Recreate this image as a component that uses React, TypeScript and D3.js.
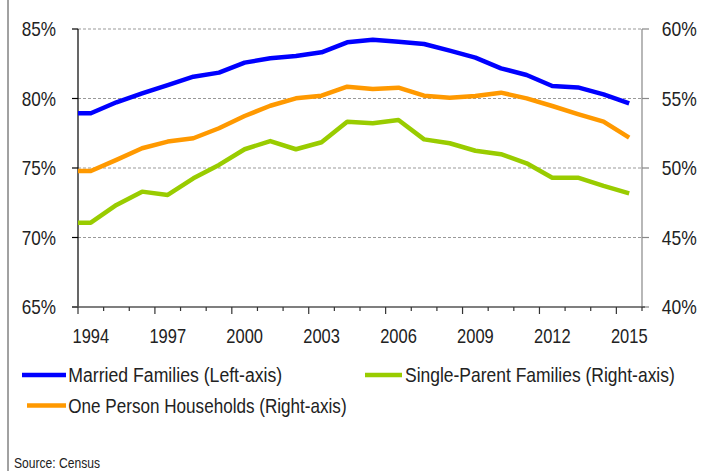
import React, { useLayoutEffect, useRef, useState } from "react";
import * as d3 from "d3";

const years = [1994,1995,1996,1997,1998,1999,2000,2001,2002,2003,2004,2005,2006,2007,2008,2009,2010,2011,2012,2013,2014,2015];
const married = [78.94,79.73,80.37,80.97,81.57,81.86,82.58,82.89,83.06,83.32,84.04,84.23,84.09,83.92,83.44,82.94,82.17,81.69,80.9,80.8,80.3,79.65];
const onePerson = [49.78,50.58,51.42,51.9,52.14,52.86,53.74,54.48,55.01,55.2,55.85,55.68,55.78,55.2,55.06,55.18,55.42,55.01,54.46,53.88,53.33,52.18];
const singleParent = [46.07,47.34,48.3,48.06,49.26,50.22,51.35,51.94,51.35,51.85,53.33,53.22,53.45,52.06,51.78,51.24,50.99,50.34,49.3,49.3,48.71,48.18];
const leftTicks = [65,70,75,80,85];
const rightTicks = [40,45,50,55,60];
const labelYears = [1994,1997,2000,2003,2006,2009,2012,2015];
const seriesNames = ["Married Families (Left-axis)","Single-Parent Families (Right-axis)","One Person Households (Right-axis)"];
const colors = ["#0000FF","#99CC00","#FF9900"];

const W = 707, H = 471;
const FONT = "'Liberation Sans', Arial, sans-serif";

function FitText({ x, y, width, fontSize, children }: { x: number; y: number; width: number; fontSize: number; children: React.ReactNode }) {
  const ref = useRef<SVGTextElement>(null);
  const [k, setK] = useState(0.8);
  useLayoutEffect(() => {
    if (ref.current) {
      const w = ref.current.getComputedTextLength();
      if (w > 0) setK(width / w);
    }
  }, [width, children]);
  return (
    <text ref={ref} transform={`translate(${x},${y}) scale(${k},1)`} dy="0.36em" fontSize={fontSize} fill="#222">
      {children}
    </text>
  );
}

export default function App() {
  const left = 78, right = 642, top = 29, bottom = 307;
  const x = d3.scaleBand<number>().domain(years).range([left, right]).paddingInner(0).paddingOuter(0);
  const yL = d3.scaleLinear().domain([65, 85]).range([bottom, top]);
  const yR = d3.scaleLinear().domain([40, 60]).range([bottom, top]);
  const bw = x.bandwidth();
  const cx = (yr: number) => (x(yr) as number) + bw / 2;

  const mkLine = (vals: number[], ys: d3.ScaleLinear<number, number>) => {
    const pts: [number, number][] = [[left, ys(vals[0])], ...vals.map((v, i) => [cx(years[i]), ys(v)] as [number, number])];
    return d3.line()(pts) as string;
  };

  const series = [
    { vals: married, y: yL, color: colors[0] },
    { vals: onePerson, y: yR, color: colors[2] },
    { vals: singleParent, y: yR, color: colors[1] },
  ];

  const boundaries = [...years.map((yr) => x(yr) as number), right];

  return (
    <svg width={W} height={H} style={{ position: "absolute", left: 0, top: 0, background: "#fff" }} fontFamily={FONT}>
      <rect x={0} y={0} width={W} height={H} fill="#fff" />
      <line x1={8} x2={8} y1={0} y2={H} stroke="#444" strokeWidth={1} />
      {leftTicks.filter((t) => t !== 65).map((t) => (
        <line key={"g" + t} x1={left} x2={right} y1={yL(t)} y2={yL(t)} stroke="#999" strokeWidth={1} strokeDasharray="3,2" />
      ))}
      <line x1={left} x2={left} y1={top} y2={bottom} stroke="#000" strokeWidth={1.2} />
      {leftTicks.map((t) => (
        <g key={"l" + t}>
          <line x1={left - 6} x2={left} y1={yL(t)} y2={yL(t)} stroke="#000" strokeWidth={1.2} />
          <FitText x={21.7} y={yL(t)} width={34.3} fontSize={20}>{t}%</FitText>
        </g>
      ))}
      <line x1={right} x2={right} y1={top} y2={bottom} stroke="#888" strokeWidth={1.2} />
      {rightTicks.map((t) => (
        <g key={"r" + t}>
          <line x1={right} x2={right + 7} y1={yR(t)} y2={yR(t)} stroke="#888" strokeWidth={1.2} />
          <FitText x={661.7} y={yR(t)} width={35} fontSize={20}>{t}%</FitText>
        </g>
      ))}
      <line x1={left - 6} x2={right + 3} y1={bottom} y2={bottom} stroke="#555" strokeWidth={1.5} />
      {boundaries.map((bx, i) => {
        const major = i < years.length && labelYears.includes(years[i]);
        return <line key={"t" + i} x1={bx} x2={bx} y1={bottom} y2={bottom + (major ? 7 : 4)} stroke="#333" strokeWidth={1.2} />;
      })}
      {labelYears.map((yr) => (
        <FitText key={"x" + yr} x={cx(yr) - 18.3} y={336} width={36.7} fontSize={20}>{yr}</FitText>
      ))}
      {series.map((s, i) => (
        <path key={"s" + i} d={mkLine(s.vals, s.y)} fill="none" stroke={s.color} strokeWidth={4.5} strokeLinejoin="round" />
      ))}
      <line x1={22} x2={66} y1={375} y2={375} stroke={colors[0]} strokeWidth={4.5} />
      <FitText x={68.3} y={375} width={214} fontSize={20}>{seriesNames[0]}</FitText>
      <line x1={365} x2={402} y1={375} y2={375} stroke={colors[1]} strokeWidth={4.5} />
      <FitText x={405} y={375} width={270} fontSize={20}>{seriesNames[1]}</FitText>
      <line x1={27} x2={66} y1={405.5} y2={405.5} stroke={colors[2]} strokeWidth={4.5} />
      <FitText x={68.3} y={405.5} width={278.5} fontSize={20}>{seriesNames[2]}</FitText>
      <FitText x={14} y={463} width={86} fontSize={15}>Source: Census</FitText>
    </svg>
  );
}
